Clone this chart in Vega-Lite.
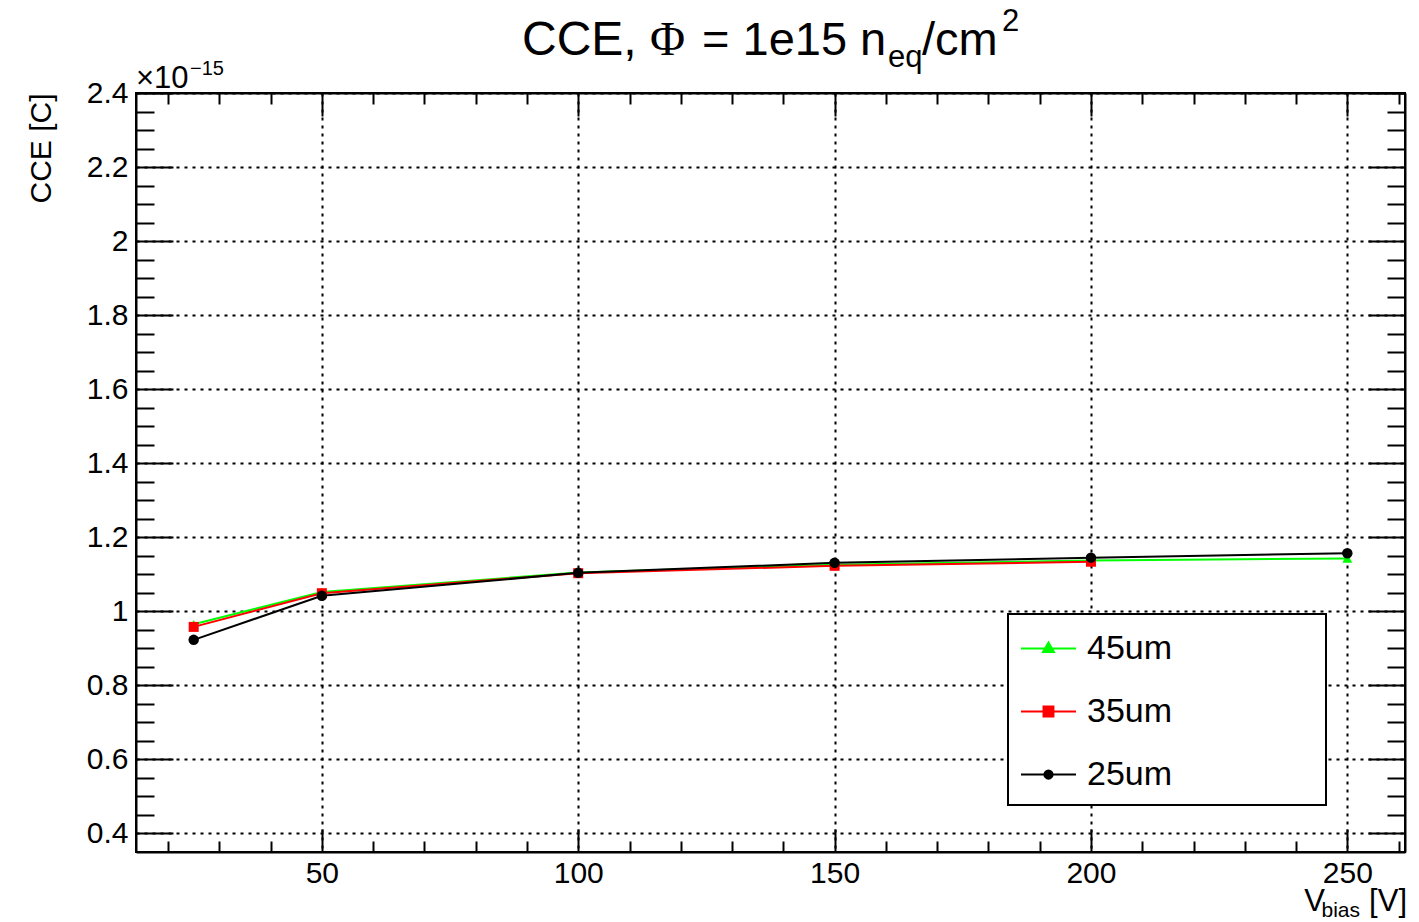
{
  "$schema": "https://vega.github.io/schema/vega-lite/v6.json",
  "width": 1269,
  "height": 759,
  "autosize": {"type": "none"},
  "padding": {"left": 136, "top": 93, "right": 14, "bottom": 70},
  "background": "white",
  "config": {
    "font": "Liberation Sans",
    "view": {"stroke": "black", "strokeWidth": 2}
  },
  "data": {
    "values": [
      {"vbias": 25, "cce": 9.65e-16, "thickness": "45um"},
      {"vbias": 50, "cce": 1.052e-15, "thickness": "45um"},
      {"vbias": 100, "cce": 1.105e-15, "thickness": "45um"},
      {"vbias": 150, "cce": 1.126e-15, "thickness": "45um"},
      {"vbias": 200, "cce": 1.137e-15, "thickness": "45um"},
      {"vbias": 250, "cce": 1.143e-15, "thickness": "45um"},
      {"vbias": 25, "cce": 9.58e-16, "thickness": "35um"},
      {"vbias": 50, "cce": 1.049e-15, "thickness": "35um"},
      {"vbias": 100, "cce": 1.103e-15, "thickness": "35um"},
      {"vbias": 150, "cce": 1.123e-15, "thickness": "35um"},
      {"vbias": 200, "cce": 1.134e-15, "thickness": "35um"},
      {"vbias": 25, "cce": 9.23e-16, "thickness": "25um"},
      {"vbias": 50, "cce": 1.042e-15, "thickness": "25um"},
      {"vbias": 100, "cce": 1.104e-15, "thickness": "25um"},
      {"vbias": 150, "cce": 1.131e-15, "thickness": "25um"},
      {"vbias": 200, "cce": 1.145e-15, "thickness": "25um"},
      {"vbias": 250, "cce": 1.157e-15, "thickness": "25um"}
    ]
  },
  "resolve": {"axis": {"x": "independent", "y": "independent"}},
  "layer": [
    {
      "mark": {"type": "line", "strokeWidth": 2},
      "encoding": {
        "x": {
          "field": "vbias", "type": "quantitative",
          "scale": {"domain": [13.75, 261.25], "nice": false, "zero": false},
          "axis": {
            "orient": "bottom", "title": null,
            "values": [20,30,40,50,60,70,80,90,100,110,120,130,140,150,160,170,180,190,200,210,220,230,240,250,260],
            "labelExpr": "datum.value % 50 === 0 ? format(datum.value, 'd') : ''",
            "tickSize": {"condition": {"test": "datum.value % 50 === 0", "value": -23}, "value": -11},
            "tickColor": "black", "tickWidth": 2,
            "domainColor": "black", "domainWidth": 2,
            "grid": true, "gridColor": "black", "gridDash": [3, 5], "gridWidth": 2,
            "gridOpacity": {"condition": {"test": "datum.value % 50 === 0", "value": 1}, "value": 0},
            "labelFont": "Liberation Sans", "labelFontSize": 30, "labelColor": "black",
            "labelPadding": 29, "labelFlush": false, "labelOverlap": false
          }
        },
        "y": {
          "field": "cce", "type": "quantitative",
          "scale": {"domain": [3.5e-16, 2.4e-15], "nice": false, "zero": false},
          "axis": {
            "orient": "left",
            "title": "CCE [C]",
            "titleFont": "Liberation Sans", "titleFontSize": 30, "titleFontWeight": "normal", "titleColor": "black",
            "titleAngle": 270, "titleAlign": "right", "titleBaseline": "alphabetic",
            "titleX": -86, "titleY": 0,
            "values": [4e-16,4.5e-16,5e-16,5.5e-16,6e-16,6.5e-16,7e-16,7.5e-16,8e-16,8.5e-16,9e-16,9.5e-16,1e-15,1.05e-15,1.1e-15,1.15e-15,1.2e-15,1.25e-15,1.3e-15,1.35e-15,1.4e-15,1.45e-15,1.5e-15,1.55e-15,1.6e-15,1.65e-15,1.7e-15,1.75e-15,1.8e-15,1.85e-15,1.9e-15,1.95e-15,2e-15,2.05e-15,2.1e-15,2.15e-15,2.2e-15,2.25e-15,2.3e-15,2.35e-15,2.4e-15],
            "labelExpr": "round(datum.value * 1e17) % 20 === 0 ? format(datum.value * 1e15, '.2~g') : ''",
            "tickSize": {"condition": {"test": "round(datum.value * 1e17) % 20 === 0", "value": -37}, "value": -18},
            "tickColor": "black", "tickWidth": 2,
            "domainColor": "black", "domainWidth": 2,
            "grid": true, "gridColor": "black", "gridDash": [3, 5], "gridWidth": 2,
            "gridOpacity": {"condition": {"test": "round(datum.value * 1e17) % 20 === 0", "value": 1}, "value": 0},
            "labelFont": "Liberation Sans", "labelFontSize": 30, "labelColor": "black",
            "labelPadding": 45, "labelFlush": false, "labelOverlap": false
          }
        },
        "color": {
          "field": "thickness", "type": "nominal",
          "scale": {"domain": ["45um", "35um", "25um"], "range": ["#00ff00", "#ff0000", "#000000"]},
          "legend": {
            "orient": "none", "legendX": 872, "legendY": 521,
            "title": null,
            "labelFont": "Liberation Sans", "labelFontSize": 34, "labelColor": "black",
            "labelOffset": 10, "labelLimit": 0,
            "symbolSize": 3025, "symbolStrokeWidth": 2, "symbolOffset": 6,
            "padding": 6, "rowPadding": 17,
            "strokeColor": "black", "fillColor": "white",
            "encode": {
              "legend": {"update": {"strokeWidth": {"value": 2}}},
              "symbols": {
                "update": {
                  "shape": {"signal": "datum.value === '45um' ? 'M-1,0L1,0M0,-0.22L0.2,0.13L-0.2,0.13ZM9.72,0' : datum.value === '35um' ? 'M-1,0L1,0M-0.18,-0.18L0.18,-0.18L0.18,0.18L-0.18,0.18ZM9.72,0' : 'M-1,0L1,0M0.15,0A0.15,0.15,0,1,1,-0.15,0A0.15,0.15,0,1,1,0.15,0ZM9.72,0.72'"},
                  "fill": {"scale": "color", "field": "value"},
                  "stroke": {"scale": "color", "field": "value"},
                  "strokeWidth": {"value": 2},
                  "opacity": {"value": 1}
                }
              }
            }
          }
        }
      }
    },
    {
      "transform": [{"filter": "datum.thickness === '45um'"}],
      "mark": {"type": "point", "filled": true, "opacity": 1, "size": 100, "shape": "triangle-up", "color": "#00ff00"},
      "encoding": {
        "x": {"field": "vbias", "type": "quantitative", "axis": null},
        "y": {"field": "cce", "type": "quantitative", "axis": null}
      }
    },
    {
      "transform": [{"filter": "datum.thickness === '35um'"}],
      "mark": {"type": "point", "filled": true, "opacity": 1, "size": 100, "shape": "square", "color": "#ff0000"},
      "encoding": {
        "x": {"field": "vbias", "type": "quantitative", "axis": null},
        "y": {"field": "cce", "type": "quantitative", "axis": null}
      }
    },
    {
      "transform": [{"filter": "datum.thickness === '25um'"}],
      "mark": {"type": "point", "filled": true, "opacity": 1, "size": 110, "shape": "circle", "color": "#000000"},
      "encoding": {
        "x": {"field": "vbias", "type": "quantitative", "axis": null},
        "y": {"field": "cce", "type": "quantitative", "axis": null}
      }
    },
    {
      "mark": {"type": "point", "opacity": 0},
      "encoding": {
        "x": {
          "field": "vbias", "type": "quantitative",
          "axis": {
            "orient": "top", "title": null, "labels": false, "grid": false,
            "values": [20,30,40,50,60,70,80,90,100,110,120,130,140,150,160,170,180,190,200,210,220,230,240,250,260],
            "tickSize": {"condition": {"test": "datum.value % 50 === 0", "value": -23}, "value": -11},
            "tickColor": "black", "tickWidth": 2, "domainColor": "black", "domainWidth": 2
          }
        },
        "y": {
          "field": "cce", "type": "quantitative",
          "axis": {
            "orient": "right", "title": null, "labels": false, "grid": false,
            "values": [4e-16,4.5e-16,5e-16,5.5e-16,6e-16,6.5e-16,7e-16,7.5e-16,8e-16,8.5e-16,9e-16,9.5e-16,1e-15,1.05e-15,1.1e-15,1.15e-15,1.2e-15,1.25e-15,1.3e-15,1.35e-15,1.4e-15,1.45e-15,1.5e-15,1.55e-15,1.6e-15,1.65e-15,1.7e-15,1.75e-15,1.8e-15,1.85e-15,1.9e-15,1.95e-15,2e-15,2.05e-15,2.1e-15,2.15e-15,2.2e-15,2.25e-15,2.3e-15,2.35e-15,2.4e-15],
            "tickSize": {"condition": {"test": "round(datum.value * 1e17) % 20 === 0", "value": -37}, "value": -18},
            "tickColor": "black", "tickWidth": 2, "domainColor": "black", "domainWidth": 2
          }
        }
      }
    },
    {
      "data": {"values": [{}]},
      "mark": {"type": "text", "text": "CCE, ", "font": "Liberation Sans", "fontSize": 48, "align": "left", "baseline": "alphabetic", "dx": 386, "dy": -38, "color": "black"},
      "encoding": {"x": {"datum": 13.75, "type": "quantitative", "axis": null}, "y": {"datum": 2.4e-15, "type": "quantitative", "axis": null}}
    },
    {
      "data": {"values": [{}]},
      "mark": {"type": "text", "text": "Φ", "font": "Liberation Serif", "fontSize": 48, "align": "left", "baseline": "alphabetic", "dx": 514, "dy": -38, "color": "black"},
      "encoding": {"x": {"datum": 13.75, "type": "quantitative", "axis": null}, "y": {"datum": 2.4e-15, "type": "quantitative", "axis": null}}
    },
    {
      "data": {"values": [{}]},
      "mark": {"type": "text", "text": "= 1e15 n", "font": "Liberation Sans", "fontSize": 47, "align": "left", "baseline": "alphabetic", "dx": 566, "dy": -38, "color": "black"},
      "encoding": {"x": {"datum": 13.75, "type": "quantitative", "axis": null}, "y": {"datum": 2.4e-15, "type": "quantitative", "axis": null}}
    },
    {
      "data": {"values": [{}]},
      "mark": {"type": "text", "text": "eq", "font": "Liberation Sans", "fontSize": 31, "align": "left", "baseline": "alphabetic", "dx": 752, "dy": -26, "color": "black"},
      "encoding": {"x": {"datum": 13.75, "type": "quantitative", "axis": null}, "y": {"datum": 2.4e-15, "type": "quantitative", "axis": null}}
    },
    {
      "data": {"values": [{}]},
      "mark": {"type": "text", "text": "/cm", "font": "Liberation Sans", "fontSize": 47, "align": "left", "baseline": "alphabetic", "dx": 786, "dy": -38, "color": "black"},
      "encoding": {"x": {"datum": 13.75, "type": "quantitative", "axis": null}, "y": {"datum": 2.4e-15, "type": "quantitative", "axis": null}}
    },
    {
      "data": {"values": [{}]},
      "mark": {"type": "text", "text": "2", "font": "Liberation Sans", "fontSize": 31, "align": "left", "baseline": "alphabetic", "dx": 866, "dy": -62, "color": "black"},
      "encoding": {"x": {"datum": 13.75, "type": "quantitative", "axis": null}, "y": {"datum": 2.4e-15, "type": "quantitative", "axis": null}}
    },
    {
      "data": {"values": [{}]},
      "mark": {"type": "text", "text": "×10", "font": "Liberation Sans", "fontSize": 31, "align": "left", "baseline": "alphabetic", "dx": 0, "dy": -5, "color": "black"},
      "encoding": {"x": {"datum": 13.75, "type": "quantitative", "axis": null}, "y": {"datum": 2.4e-15, "type": "quantitative", "axis": null}}
    },
    {
      "data": {"values": [{}]},
      "mark": {"type": "text", "text": "−15", "font": "Liberation Sans", "fontSize": 20, "align": "left", "baseline": "alphabetic", "dx": 54, "dy": -18, "color": "black"},
      "encoding": {"x": {"datum": 13.75, "type": "quantitative", "axis": null}, "y": {"datum": 2.4e-15, "type": "quantitative", "axis": null}}
    },
    {
      "data": {"values": [{}]},
      "mark": {"type": "text", "text": "[V]", "font": "Liberation Sans", "fontSize": 31, "align": "right", "baseline": "alphabetic", "dx": 2, "dy": 59, "color": "black"},
      "encoding": {"x": {"datum": 261.25, "type": "quantitative", "axis": null}, "y": {"datum": 3.5e-16, "type": "quantitative", "axis": null}}
    },
    {
      "data": {"values": [{}]},
      "mark": {"type": "text", "text": "bias", "font": "Liberation Sans", "fontSize": 21, "align": "right", "baseline": "alphabetic", "dx": -45, "dy": 65, "color": "black"},
      "encoding": {"x": {"datum": 261.25, "type": "quantitative", "axis": null}, "y": {"datum": 3.5e-16, "type": "quantitative", "axis": null}}
    },
    {
      "data": {"values": [{}]},
      "mark": {"type": "text", "text": "V", "font": "Liberation Sans", "fontSize": 31, "align": "right", "baseline": "alphabetic", "dx": -80, "dy": 59, "color": "black"},
      "encoding": {"x": {"datum": 261.25, "type": "quantitative", "axis": null}, "y": {"datum": 3.5e-16, "type": "quantitative", "axis": null}}
    }
  ]
}
